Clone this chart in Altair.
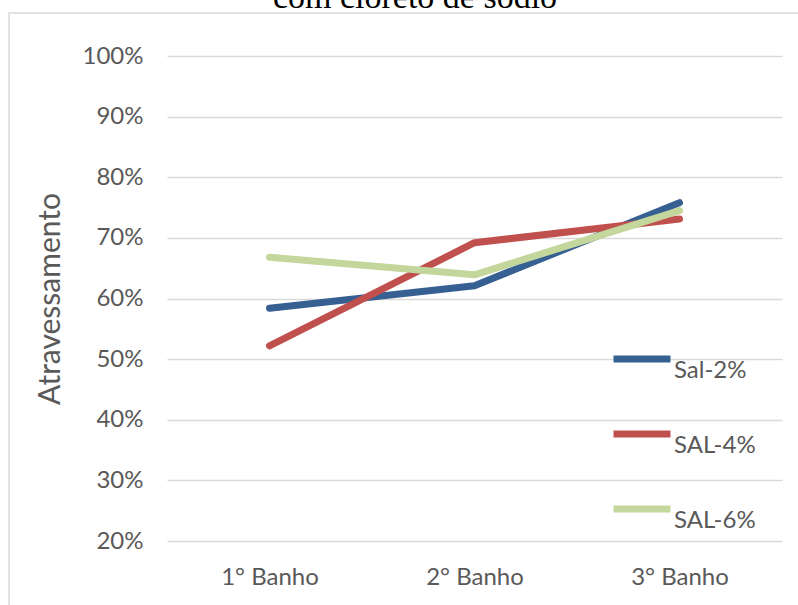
import altair as alt
import pandas as pd

categories = ["1° Banho", "2° Banho", "3° Banho"]
series_names = ["Sal-2%", "SAL-4%", "SAL-6%"]
sal2 = [0.584, 0.621, 0.758]
sal4 = [0.522, 0.692, 0.731]
sal6 = [0.668, 0.639, 0.745]
colors = ["#376092", "#C0504D", "#C3D69B"]
y_ticks = [0.2, 0.3, 0.4, 0.5, 0.6, 0.7, 0.8, 0.9, 1.0]
title_text = "com cloreto de sódio"
y_title = "Atravessamento"

rows = []
for name, vals in zip(series_names, [sal2, sal4, sal6]):
    for c, v in zip(categories, vals):
        rows.append({"Banho": c, "Serie": name, "valor": v})
df = pd.DataFrame(rows)

lines = alt.Chart(df).mark_line(strokeWidth=7, strokeCap="round", strokeJoin="round").encode(
    x=alt.X("Banho:N", sort=categories,
            scale=alt.Scale(type="point", padding=0.5),
            axis=alt.Axis(title=None, labelAngle=0, ticks=False, domain=False, grid=False,
                          labelFontSize=24, labelFont="Lato", labelColor="#595959",
                          labelPadding=24)),
    y=alt.Y("valor:Q", scale=alt.Scale(domain=[0.2, 1.0], nice=False, zero=False),
            axis=alt.Axis(values=y_ticks, format=".0%", title=y_title,
                          titleFontSize=30, titleFont="Lato", titleFontWeight="normal",
                          titleColor="#595959", titleX=-117, titleY=242.5, titleAngle=-90,
                          titleBaseline="middle", titleAlign="center",
                          labelFontSize=24, labelFont="Lato", labelColor="#595959",
                          ticks=False, domain=False, gridColor="#d9d9d9", gridWidth=1.5,
                          labelPadding=24)),
    color=alt.Color("Serie:N", sort=series_names,
                    scale=alt.Scale(domain=series_names, range=colors),
                    legend=alt.Legend(title=None, orient="none", legendX=443, legendY=271,
                                      symbolType="stroke", symbolSize=3249, symbolStrokeWidth=7,
                                      labelFontSize=24, labelFont="Lato", labelColor="#595959",
                                      labelBaseline="top", labelOffset=0, rowPadding=19))
)

title_df = pd.DataFrame({"t": [title_text]})
title = alt.Chart(title_df).mark_text(font="Liberation Serif", fontSize=34, baseline="alphabetic",
                                      align="center", color="#000000").encode(
    text="t:N", x=alt.value(248), y=alt.value(-48))

border = alt.Chart(pd.DataFrame({"a": [0]})).mark_rect(
    fillOpacity=0, stroke="#d9d9d9", strokeWidth=1.5).encode(
    x=alt.value(-158), x2=alt.value(700), y=alt.value(-43), y2=alt.value(600))

chart = alt.layer(border, lines, title).properties(
    width=615, height=485,
    autosize=alt.AutoSizeParams(type="none"),
    padding={"left": 167, "top": 56, "right": 16, "bottom": 64},
    background="white",
).configure_view(strokeWidth=0)

chart.save("out.html", embed_options={"renderer": "svg", "actions": False})
